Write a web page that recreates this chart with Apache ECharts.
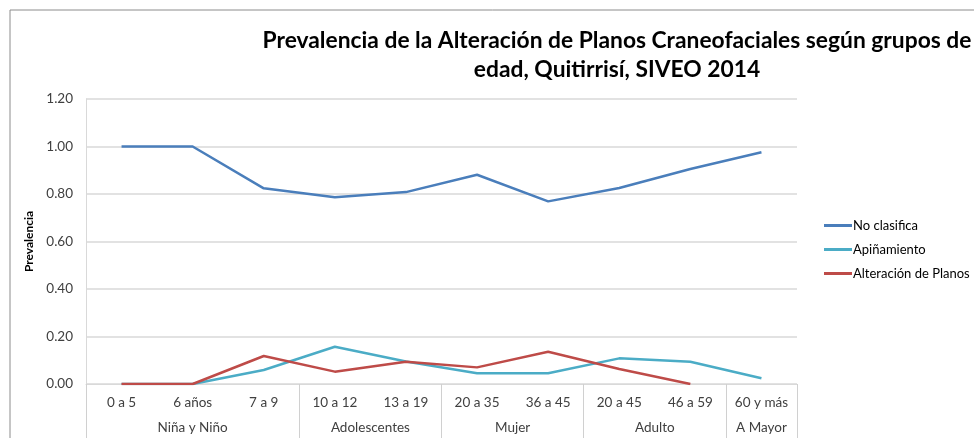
<!DOCTYPE html>
<html>
<head>
<meta charset="utf-8">
<script src="https://cdn.jsdelivr.net/npm/echarts@6/dist/echarts.min.js"></script>
<style>html,body{margin:0;padding:0;background:#fff;}#c{width:974px;height:438px;}</style>
</head>
<body>
<div id="c"></div>
<script>
const categories = ['0 a 5','6 años','7 a 9','10 a 12','13 a 19','20 a 35','36 a 45','20 a 45','46 a 59','60 y más'];
const groupNames = ['Niña y Niño','Adolescentes','Mujer','Adulto','A Mayor'];
const groupSizes = [3,2,2,2,1];
const noClasifica = [1.00,1.00,0.824,0.786,0.808,0.881,0.769,0.825,0.905,0.976];
const apinamiento = [0,0,0.059,0.157,0.095,0.045,0.045,0.108,0.094,0.024];
const alteracion = [0,0,0.118,0.052,0.094,0.070,0.136,0.063,0,null];
const yTicks = [0,0.2,0.4,0.6,0.8,1.0,1.2];

const boundaries = [0];
const centers = [];
groupSizes.forEach((s,i)=>{const b=boundaries[i]; centers.push(b+s/2); boundaries.push(b+s);});

const font = 'Lato, "Open Sans", sans-serif';
const chart = echarts.init(document.getElementById('c'));
chart.setOption({
  animation:false,
  graphic:[{type:'rect',shape:{x:10,y:10,width:1000,height:500},style:{fill:'none',stroke:'#8c8c8c',lineWidth:1}}],
  title:{
    text:'Prevalencia de la Alteración de Planos Craneofaciales según grupos de\nedad, Quitirrisí, SIVEO 2014',
    left:612, top:21, textAlign:'center',
    textStyle:{fontFamily:font,fontSize:22.8,fontWeight:'bold',color:'#000',lineHeight:29}
  },
  legend:{
    orient:'vertical', left:819, top:214, itemWidth:28, itemHeight:3, itemGap:11, icon:'rect',
    textStyle:{fontFamily:font,fontSize:13,color:'#000',padding:[0,0,0,-4]},
    data:['No clasifica','Apiñamiento','Alteración de Planos']
  },
  grid:{left:86,right:177,top:99,bottom:54},
  xAxis:[
    {type:'category',data:categories,boundaryGap:true,
     axisLine:{show:false},axisTick:{show:false},
     axisLabel:{margin:12,fontFamily:font,fontSize:13.5,color:'#404040',interval:0}},
    {type:'value',min:0,max:10,position:'bottom',
     axisLine:{show:true,lineStyle:{color:'#d9d9d9',width:1}},
     axisTick:{show:true,customValues:boundaries,length:54,lineStyle:{color:'#d0d0d0',width:1}},
     splitLine:{show:false},
     axisLabel:{customValues:centers,margin:37,fontFamily:font,fontSize:13.5,color:'#404040',
       formatter:v=>{const i=centers.indexOf(v);return i>=0?groupNames[i]:'';}}}
  ],
  yAxis:{type:'value',min:0,max:1.2,interval:0.2,
    name:'Prevalencia',nameLocation:'middle',nameGap:44,
    nameTextStyle:{fontFamily:font,fontSize:12,fontWeight:'bold',color:'#000'},
    axisLine:{show:true,lineStyle:{color:'#d9d9d9'}},axisTick:{show:false},
    axisLabel:{margin:13,fontFamily:font,fontSize:13.5,color:'#404040',formatter:v=>v.toFixed(2)},
    splitLine:{lineStyle:{color:'#d9d9d9',width:1.5}}},
  series:[
    {name:'No clasifica',type:'line',data:noClasifica,symbol:'none',lineStyle:{width:2.5,color:'#4a7ebb'},itemStyle:{color:'#4a7ebb'}},
    {name:'Apiñamiento',type:'line',data:apinamiento,symbol:'none',lineStyle:{width:2.5,color:'#4bacc6'},itemStyle:{color:'#4bacc6'}},
    {name:'Alteración de Planos',type:'line',data:alteracion,symbol:'none',lineStyle:{width:2.5,color:'#be4b48'},itemStyle:{color:'#be4b48'}}
  ]
});
</script>
</body>
</html>
